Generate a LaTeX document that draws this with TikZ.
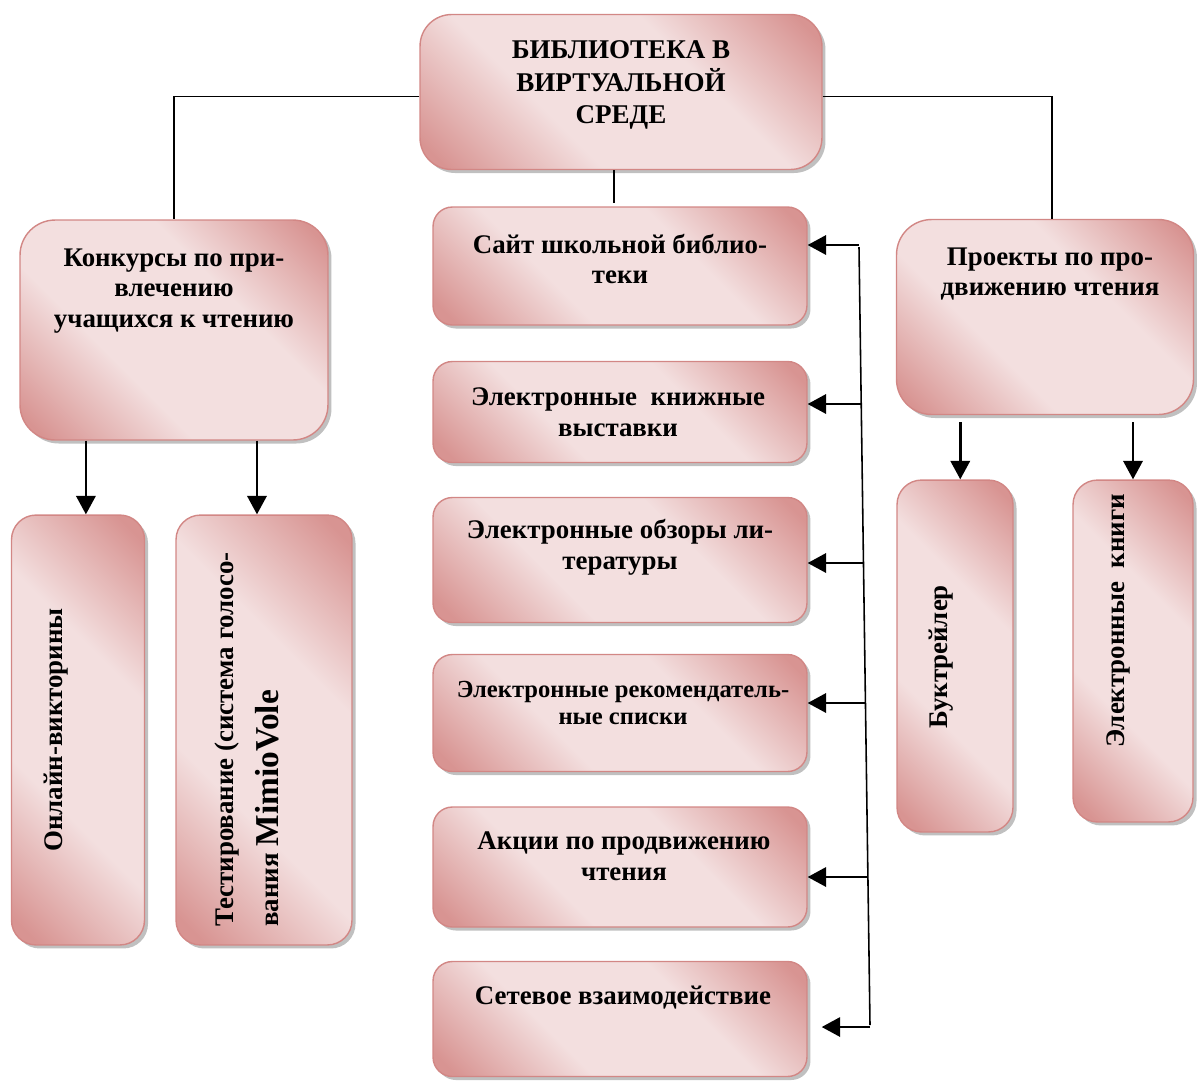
\documentclass[tikz,border=0pt]{standalone}
\usepackage{fontspec}
\setmainfont{Liberation Serif}
\usetikzlibrary{arrows.meta,shadows}
\definecolor{pkdark}{RGB}{216,148,146}
\definecolor{pklight}{RGB}{243,223,223}
\definecolor{pkedge}{RGB}{210,135,133}
\pgfdeclarehorizontalshading{pinkband}{100bp}{color(0bp)=(pkdark); color(18bp)=(pkdark);
  color(38bp)=(pklight); color(62bp)=(pklight); color(82bp)=(pkdark); color(100bp)=(pkdark)}

\begin{document}
\begin{tikzpicture}[x=0.02cm,y=-0.02cm,>={Triangle[length=10.5pt,width=11pt]},
  pink box/.style={draw=pkedge,line width=0.8pt,rounded corners=11pt,inner sep=0pt,
    shade,shading=pinkband,shading angle=45,
    drop shadow={shadow xshift=2pt,shadow yshift=-2pt,opacity=.45,fill=black!55}},
  box text/.style={font=\bfseries\fontsize{15.3}{17.5}\selectfont,align=center,inner sep=0pt},
  link/.style={line width=0.9pt},
  feed/.style={->,line width=1.4pt}]

\useasboundingbox (0,0) rectangle (1197,1080);

% boxes
\node[pink box,rounded corners=18pt,minimum width=8.04cm,minimum height=3.1cm] (top) at (621,92) {};
\node[pink box,rounded corners=20pt,minimum width=6.16cm,minimum height=4.4cm] (contests) at (174,330) {};
\node[pink box,rounded corners=20pt,minimum width=5.94cm,minimum height=3.9cm] (projects) at (1045,317) {};

\node[pink box,minimum width=7.48cm,minimum height=2.36cm] (site) at (620,266) {};
\node[pink box,minimum width=7.48cm,minimum height=2.02cm] (books) at (620,412) {};
\node[pink box,minimum width=7.48cm,minimum height=2.5cm] (reviews) at (620,560) {};
\node[pink box,minimum width=7.48cm,minimum height=2.34cm] (lists) at (620,713) {};
\node[pink box,minimum width=7.48cm,minimum height=2.4cm] (actions) at (620,867) {};
\node[pink box,minimum width=7.48cm,minimum height=2.3cm] (network) at (620,1019) {};

\node[pink box,rounded corners=14pt,minimum width=2.66cm,minimum height=8.6cm] (quiz) at (78,730) {};
\node[pink box,rounded corners=14pt,minimum width=3.52cm,minimum height=8.6cm] (test) at (264,730) {};
\node[pink box,rounded corners=14pt,minimum width=2.32cm,minimum height=7.04cm] (trailer) at (955,656) {};
\node[pink box,rounded corners=14pt,minimum width=2.4cm,minimum height=6.84cm] (ebooks) at (1133,651) {};

% texts
\node[box text,font=\bfseries\fontsize{15.4}{18.7}\selectfont] (top text) at (621,85) {БИБЛИОТЕКА В\\ВИРТУАЛЬНОЙ\\СРЕДЕ};
\node[box text] (contests text) at (174,291) {Конкурсы по при-\\влечению\\учащихся к чтению};
\node[box text] (projects text) at (1050,274) {Проекты по про-\\движению чтения};

\node[box text] (site text) at (620,259) {Сайт школьной библио-\\теки};
\node[box text] (books text) at (618,412) {Электронные\ \ книжные\\выставки};
\node[box text] (reviews text) at (620,547) {Электронные обзоры ли-\\тературы};
\node[box text,font=\bfseries\fontsize{14}{15.8}\selectfont] (lists text) at (623,703) {Электронные рекомендатель-\\ные списки};
\node[box text] (actions text) at (624,856) {Акции по продвижению\\чтения};
\node[box text] (network text) at (623,998) {Сетевое взаимодействие};

\node[box text,rotate=90] (quiz text) at (56,730) {Онлайн-викторины};
\node[box text,rotate=90,anchor=west,align=left] (test text) at (247,927) {Тестирование (система голосо-\\[8pt]вания {\fontsize{19}{17.5}\selectfont MimioVole}};
\node[box text,rotate=90] (trailer text) at (941,657) {Буктрейлер};
\node[box text,rotate=90] (ebooks text) at (1118,621) {Электронные\ \ книги};

% links from the top box
\draw[link] ([yshift=-2.5pt]top.west) -| (contests.north);
\draw[link] ([yshift=-2.5pt]top.east) -| ([xshift=4pt]projects.north);
\coordinate (stub) at (614,203);
\draw[link] (top.south -| stub) -- (stub);

\draw[feed] ([xshift=4.5pt]quiz.north |- contests.south) -- ([xshift=4.5pt]quiz.north);
\draw[feed] ([xshift=-4pt]test.north |- contests.south) -- ([xshift=-4pt]test.north);
\draw[feed,shorten <=4pt] ([xshift=3pt]trailer.north |- projects.south) -- ([xshift=3pt]trailer.north);
\draw[feed,shorten <=4pt] (ebooks.north |- projects.south) -- (ebooks.north);

% bus on the right of the middle column
\coordinate (bus top) at (859,247);
\coordinate (bus end) at (870,1025);
\draw[link] (bus top) -- (bus end);
\foreach \n/\x/\y/\s in {site/859/245/0pt,books/861/404/0pt,reviews/863/563/0pt,
    lists/865/703/0pt,actions/868/877/0pt,network/870/1027/8pt}{
  \coordinate (bus-\n) at (\x,\y);
  \draw[feed,shorten >=\s] (bus-\n) -- (bus-\n -| \n.east);
}

\end{tikzpicture}
\end{document}
